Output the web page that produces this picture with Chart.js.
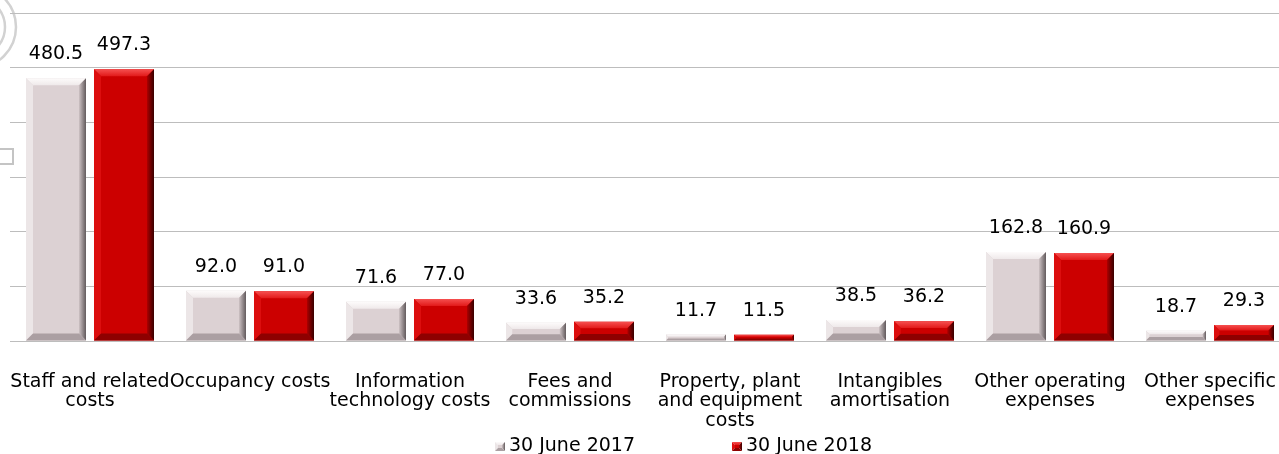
<!DOCTYPE html>
<html>
<head>
<meta charset="utf-8">
<script src="https://cdn.jsdelivr.net/npm/chart.js@4"></script>
<style>
  html, body { margin: 0; padding: 0; background: #ffffff; overflow: hidden; }
  #c { position: absolute; left: 0; top: 0; }
</style>
</head>
<body>
<canvas id="c" width="1290" height="454"></canvas>
<script>
// ---- data ----
const categories = [
  ["Staff and related", "costs"],
  ["Occupancy costs"],
  ["Information", "technology costs"],
  ["Fees and", "commissions"],
  ["Property, plant", "and equipment", "costs"],
  ["Intangibles", "amortisation"],
  ["Other operating", "expenses"],
  ["Other specific", "expenses"]
];
const seriesNames = ["30 June 2017", "30 June 2018"];
const values2017 = [480.5, 92.0, 71.6, 33.6, 11.7, 38.5, 162.8, 18.7];
const values2018 = [497.3, 91.0, 77.0, 35.2, 11.5, 36.2, 160.9, 29.3];
const yTicks = [0, 100, 200, 300, 400, 500, 600];

// ---- styles ----
const FONT = '"DejaVu Sans", sans-serif';
const palettes = [
  { face: '#dcd1d3', topOuter: '#fdfbfb', topInner: '#efe9ea', left: '#ece6e7',
    rightInner: '#cdc2c4', rightOuter: '#625a5c', bottom: '#ab9fa2' },
  { face: '#cc0000', topOuter: '#f65050', topInner: '#e21a1a', left: '#dc0e0e',
    rightInner: '#ac0000', rightOuter: '#380000', bottom: '#8e0000' }
];

function drawBevelBox(ctx, l, t, r, b, pal, bev) {
  ctx.save();
  let g = ctx.createLinearGradient(0, t, 0, t + bev);
  g.addColorStop(0, pal.topOuter); g.addColorStop(1, pal.topInner);
  ctx.fillStyle = g;
  ctx.beginPath(); ctx.moveTo(l, t); ctx.lineTo(r, t); ctx.lineTo(r - bev, t + bev); ctx.lineTo(l + bev, t + bev); ctx.closePath(); ctx.fill();
  ctx.fillStyle = pal.left;
  ctx.beginPath(); ctx.moveTo(l, t); ctx.lineTo(l + bev, t + bev); ctx.lineTo(l + bev, b - bev); ctx.lineTo(l, b); ctx.closePath(); ctx.fill();
  g = ctx.createLinearGradient(r - bev, 0, r, 0);
  g.addColorStop(0, pal.rightInner); g.addColorStop(1, pal.rightOuter);
  ctx.fillStyle = g;
  ctx.beginPath(); ctx.moveTo(r, t); ctx.lineTo(r, b); ctx.lineTo(r - bev, b - bev); ctx.lineTo(r - bev, t + bev); ctx.closePath(); ctx.fill();
  ctx.fillStyle = pal.bottom;
  ctx.beginPath(); ctx.moveTo(l, b); ctx.lineTo(r, b); ctx.lineTo(r - bev, b - bev); ctx.lineTo(l + bev, b - bev); ctx.closePath(); ctx.fill();
  ctx.restore();
}

const bevelAndLabels = {
  id: 'bevelAndLabels',
  afterDatasetsDraw(chart) {
    const ctx = chart.ctx;
    chart.data.datasets.forEach((ds, di) => {
      const meta = chart.getDatasetMeta(di);
      meta.data.forEach((el, i) => {
        const p = el.getProps(['x', 'y', 'base', 'width'], true);
        const l = p.x - p.width / 2, r = p.x + p.width / 2;
        const t = Math.min(p.y, p.base), b = Math.max(p.y, p.base);
        const bev = Math.max(1.5, Math.min(7, (b - t) * 0.35));
        drawBevelBox(ctx, l, t, r, b, palettes[di], bev);
        ctx.save();
        ctx.fillStyle = '#000000';
        ctx.font = '19px ' + FONT;
        ctx.textAlign = 'center';
        ctx.textBaseline = 'middle';
        ctx.fillText(ds.data[i].toFixed(1), p.x, t - 24);
        ctx.restore();
      });
    });
  }
};

const customLegend = {
  id: 'customLegend',
  afterDraw(chart) {
    const ctx = chart.ctx;
    ctx.save();
    ctx.font = '19px ' + FONT;
    ctx.textBaseline = 'middle';
    ctx.textAlign = 'left';
    let x = 495;
    const cy = 446;
    chart.data.datasets.forEach((ds, di) => {
      drawBevelBox(ctx, x, cy - 4, x + 10, cy + 5, palettes[di], 3);
      ctx.fillStyle = palettes[di].face;
      ctx.fillRect(x + 3, cy - 1, 4, 3);
      ctx.fillStyle = '#000000';
      ctx.fillText(ds.label, x + 14, cy);
      x += 14 + ctx.measureText(ds.label).width + 97;
    });
    ctx.restore();
  }
};

const watermark = {
  id: 'watermark',
  beforeDraw(chart) {
    const ctx = chart.ctx;
    ctx.save();
    ctx.strokeStyle = '#d2d2d2';
    ctx.lineWidth = 2.5;
    ctx.beginPath(); ctx.arc(-25, 27, 41, 0, Math.PI * 2); ctx.stroke();
    ctx.beginPath(); ctx.arc(-25, 27, 30, 0, Math.PI * 2); ctx.stroke();
    ctx.strokeStyle = '#c4c4c4';
    ctx.lineWidth = 2;
    ctx.strokeRect(-2, 149, 15, 15);
    ctx.restore();
  }
};

new Chart(document.getElementById('c'), {
  type: 'bar',
  data: {
    labels: categories,
    datasets: [
      { label: seriesNames[0], data: values2017, backgroundColor: palettes[0].face, borderWidth: 0,
        categoryPercentage: 0.85, barPercentage: 0.882 },
      { label: seriesNames[1], data: values2018, backgroundColor: palettes[1].face, borderWidth: 0,
        categoryPercentage: 0.85, barPercentage: 0.882 }
    ]
  },
  options: {
    responsive: false,
    animation: false,
    layout: { padding: { left: 10, top: 13, right: 0, bottom: 0 } },
    plugins: { legend: { display: false }, tooltip: { enabled: false } },
    scales: {
      x: {
        grid: { display: false, drawTicks: false },
        border: { display: false },
        ticks: { color: '#000000', font: { family: FONT, size: 19, lineHeight: 1.03 },
                 padding: 31, maxRotation: 0, autoSkip: false },
        afterFit(s) { s.height = 113; s.paddingLeft = 0; s.paddingRight = 0; }
      },
      y: {
        min: yTicks[0], max: yTicks[yTicks.length - 1],
        afterBuildTicks(s) { s.ticks = yTicks.map(v => ({ value: v })); },
        ticks: { display: false },
        grid: { color: '#bdbdbd', lineWidth: 1, drawTicks: false },
        border: { display: false },
        afterFit(s) { s.width = 0; s.paddingTop = 0; s.paddingBottom = 0; }
      }
    }
  },
  plugins: [watermark, bevelAndLabels, customLegend]
});
</script>
</body>
</html>
